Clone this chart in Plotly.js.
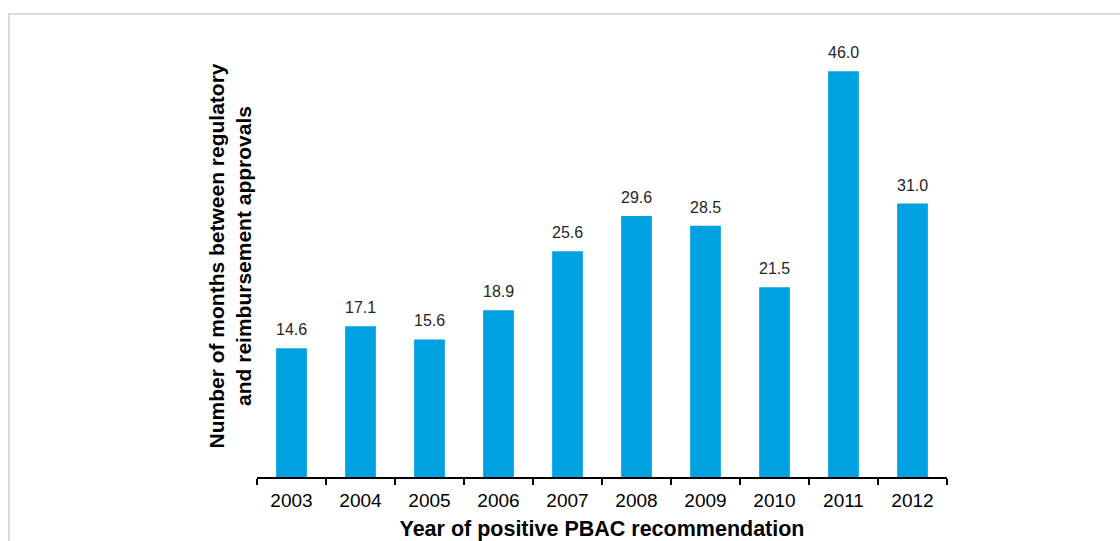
<!DOCTYPE html>
<html>
<head>
<meta charset="utf-8">
<script src="https://cdn.plot.ly/plotly-3.0.1.min.js"></script>
<style>
  html, body { margin: 0; padding: 0; background: #fff; }
  #wrap { position: relative; width: 1120px; height: 541px; }
  #chart { width: 1120px; height: 541px; }
  #frame { position: absolute; left: 8px; top: 13px; right: 0; bottom: 0;
           border-top: 2px solid #dadada; border-left: 2px solid #dadada; pointer-events: none; }
</style>
</head>
<body>
<div id="wrap">
  <div id="chart"></div>
  <div id="frame"></div>
</div>
<script>
const years = ["2003", "2004", "2005", "2006", "2007", "2008", "2009", "2010", "2011", "2012"];
const months = [14.6, 17.1, 15.6, 18.9, 25.6, 29.6, 28.5, 21.5, 46.0, 31.0];
const yTitle = "Number of months between regulatory<br>and reimbursement approvals";
const xTitle = "Year of positive PBAC recommendation";

const fontFam = "Liberation Sans, Arial, sans-serif";
const W = 1120, mL = 257, mR = 173;
const plotW = W - mL - mR;

const trace = {
  type: "bar",
  x: years,
  y: months,
  marker: { color: "#00A1E0", line: { width: 0 } },
  hoverinfo: "x+y"
};

const labelAnns = years.map((yr, i) => ({
  x: i, y: months[i], xref: "x", yref: "y",
  text: months[i].toFixed(1), showarrow: false,
  yanchor: "bottom", yshift: 8,
  font: { family: fontFam, size: 16, color: "#262626" }
}));

labelAnns.push({
  xref: "paper", yref: "paper",
  x: (229 - mL) / plotW, y: 0.5,
  xanchor: "center", yanchor: "middle",
  textangle: -90, showarrow: false,
  text: "<b>" + yTitle + "</b>",
  font: { family: fontFam, size: 21, color: "#000" }
});

const layout = {
  width: 1120, height: 541,
  margin: { l: mL, r: mR, t: 36, b: 64, pad: 0 },
  paper_bgcolor: "rgba(0,0,0,0)",
  plot_bgcolor: "rgba(0,0,0,0)",
  showlegend: false,
  bargap: 0.555,
  xaxis: {
    type: "category",
    range: [-0.5, years.length - 0.5],
    showline: true, linecolor: "#000", linewidth: 1.5,
    ticks: "outside", tickson: "boundaries", ticklen: 6, tickwidth: 1.5, tickcolor: "#000",
    tickfont: { family: fontFam, size: 19, color: "#000" },
    ticklabelstandoff: 5,
    tickangle: 0,
    showgrid: false, zeroline: false,
    title: { text: "<b>" + xTitle + "</b>", font: { family: fontFam, size: 21.5, color: "#000" }, standoff: 12 }
  },
  yaxis: {
    range: [0, 50],
    showline: false, showgrid: false, zeroline: false,
    showticklabels: false, ticks: ""
  },
  annotations: labelAnns
};

Plotly.newPlot("chart", [trace], layout, { displayModeBar: false, responsive: false });
</script>
</body>
</html>
